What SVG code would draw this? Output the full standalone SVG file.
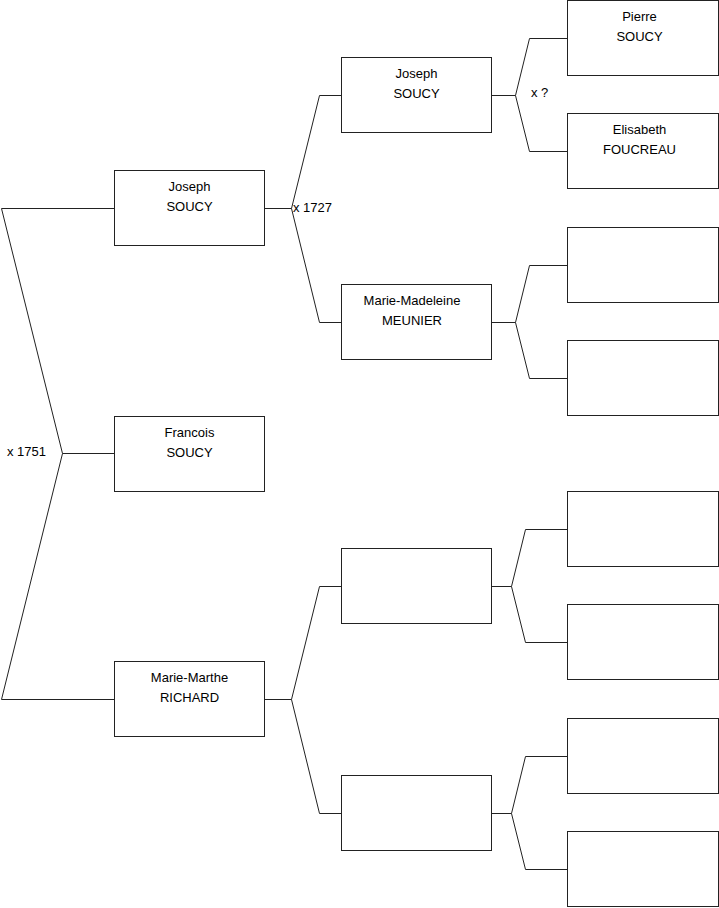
<svg xmlns="http://www.w3.org/2000/svg" width="719" height="908" viewBox="0 0 719 908">
<style>
.box{fill:#fff;stroke:#222;stroke-width:1}
.con{fill:none;stroke:#222;stroke-width:1}
text{font-family:"Liberation Sans",Arial,sans-serif;font-size:13px;fill:#000}
.c{text-anchor:middle}
</style>
<rect width="719" height="908" fill="#fff"/>
<g id="connectors">
<polyline class="con" points="114,208.5 1.5,208.5 62.5,453.5 1.5,699.5 114,699.5"/>
<line class="con" x1="62.5" y1="453.5" x2="114" y2="453.5"/>
<polyline class="con" points="265,208.5 291.5,208.5"/>
<polyline class="con" points="341,95.5 319.5,95.5 291.5,208.5 319.5,322.5 341,322.5"/>
<polyline class="con" points="265,699.5 291.5,699.5"/>
<polyline class="con" points="341,586.5 319.5,586.5 291.5,699.5 319.5,813.5 341,813.5"/>
<polyline class="con" points="491,95.5 515.5,95.5"/>
<polyline class="con" points="567,38.5 529.5,38.5 515.5,95.5 529.5,151.5 567,151.5"/>
<polyline class="con" points="491,322.5 515.5,322.5"/>
<polyline class="con" points="567,265.5 529.5,265.5 515.5,322.5 529.5,378.5 567,378.5"/>
<polyline class="con" points="491,586.5 511.5,586.5"/>
<polyline class="con" points="567,529.5 525.5,529.5 511.5,586.5 525.5,642.5 567,642.5"/>
<polyline class="con" points="491,813.5 511.5,813.5"/>
<polyline class="con" points="567,756.5 525.5,756.5 511.5,813.5 525.5,869.5 567,869.5"/>
<text x="7" y="456">x 1751</text>
<text x="293" y="212">x 1727</text>
<text x="531" y="97">x ?</text>
</g>
<g id="n-joseph1"><rect class="box" x="114.5" y="170.5" width="150" height="75"/><text class="c" x="189.5" y="191">Joseph</text><text class="c" x="189.5" y="211">SOUCY</text></g>
<g id="n-francois"><rect class="box" x="114.5" y="416.5" width="150" height="75"/><text class="c" x="189.5" y="437">Francois</text><text class="c" x="189.5" y="457">SOUCY</text></g>
<g id="n-mariemarthe"><rect class="box" x="114.5" y="661.5" width="150" height="75"/><text class="c" x="189.5" y="682">Marie-Marthe</text><text class="c" x="189.5" y="702">RICHARD</text></g>
<g id="n-joseph2"><rect class="box" x="341.5" y="57.5" width="150" height="75"/><text class="c" x="416.5" y="78">Joseph</text><text class="c" x="416.5" y="98">SOUCY</text></g>
<g id="n-mariemadeleine"><rect class="box" x="341.5" y="284.5" width="150" height="75"/><text class="c" x="412" y="305">Marie-Madeleine</text><text class="c" x="412" y="325">MEUNIER</text></g>
<g id="n-g2c"><rect class="box" x="341.5" y="548.5" width="150" height="75"/></g>
<g id="n-g2d"><rect class="box" x="341.5" y="775.5" width="150" height="75"/></g>
<g id="n-pierre"><rect class="box" x="567.5" y="0.5" width="151" height="75"/><text class="c" x="639.5" y="21">Pierre</text><text class="c" x="639.5" y="41">SOUCY</text></g>
<g id="n-elisabeth"><rect class="box" x="567.5" y="113.5" width="151" height="75"/><text class="c" x="639.5" y="134">Elisabeth</text><text class="c" x="639.5" y="154">FOUCREAU</text></g>
<g id="n-g3c"><rect class="box" x="567.5" y="227.5" width="151" height="75"/></g>
<g id="n-g3d"><rect class="box" x="567.5" y="340.5" width="151" height="75"/></g>
<g id="n-g3e"><rect class="box" x="567.5" y="491.5" width="151" height="75"/></g>
<g id="n-g3f"><rect class="box" x="567.5" y="604.5" width="151" height="75"/></g>
<g id="n-g3g"><rect class="box" x="567.5" y="718.5" width="151" height="75"/></g>
<g id="n-g3h"><rect class="box" x="567.5" y="831.5" width="151" height="75"/></g>
</svg>
